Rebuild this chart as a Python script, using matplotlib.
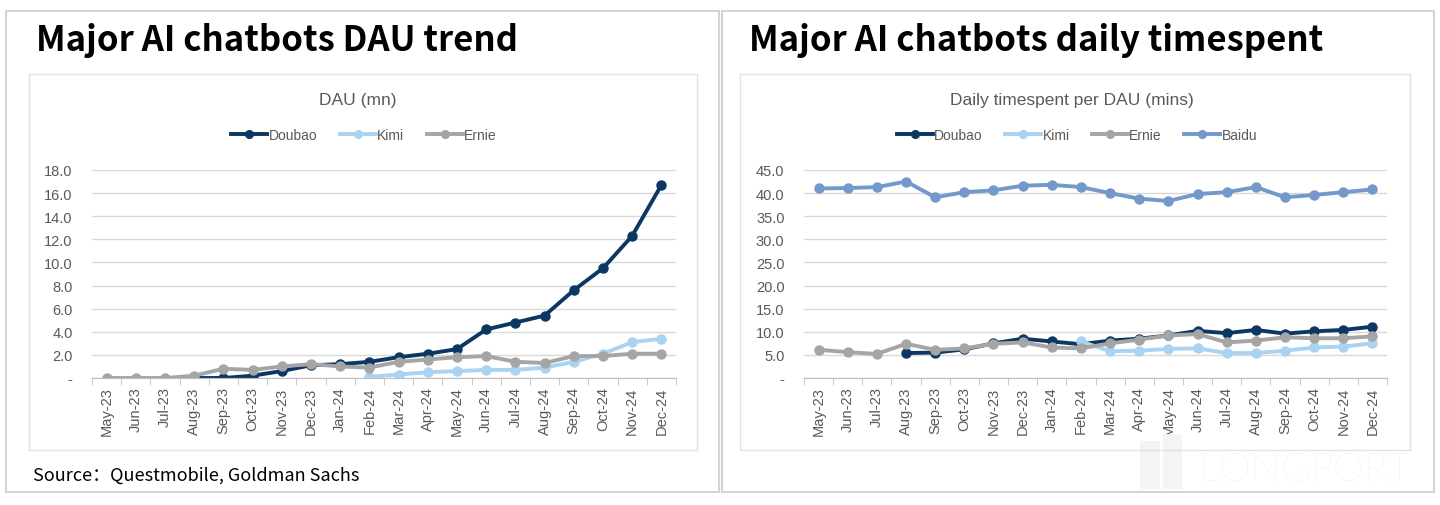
import numpy as np
import matplotlib.pyplot as plt
from matplotlib.patches import Rectangle

# ---------------- data ----------------
months = ['May-23', 'Jun-23', 'Jul-23', 'Aug-23', 'Sep-23', 'Oct-23', 'Nov-23',
          'Dec-23', 'Jan-24', 'Feb-24', 'Mar-24', 'Apr-24', 'May-24', 'Jun-24',
          'Jul-24', 'Aug-24', 'Sep-24', 'Oct-24', 'Nov-24', 'Dec-24']
nan = np.nan

dau_doubao = [nan, nan, nan, 0.0, 0.0, 0.2, 0.6, 1.1, 1.2, 1.4, 1.8, 2.1,
              2.5, 4.2, 4.8, 5.4, 7.6, 9.5, 12.3, 16.7]
dau_kimi = [nan, nan, nan, nan, nan, nan, nan, nan, nan, 0.1, 0.3, 0.5,
            0.6, 0.7, 0.7, 0.9, 1.4, 2.1, 3.1, 3.4]
dau_ernie = [0.0, 0.0, 0.0, 0.2, 0.8, 0.7, 1.0, 1.2, 1.0, 0.9, 1.4, 1.6,
             1.8, 1.9, 1.4, 1.3, 1.9, 1.9, 2.1, 2.1]

time_doubao = [nan, nan, nan, 5.4, 5.5, 6.2, 7.5, 8.5, 7.9, 7.3, 8.1, 8.5,
               9.2, 10.2, 9.7, 10.4, 9.6, 10.1, 10.4, 11.1]
time_kimi = [nan, nan, nan, nan, nan, nan, nan, nan, nan, 7.9, 5.8, 5.9,
             6.3, 6.4, 5.4, 5.4, 5.9, 6.6, 6.8, 7.5]
time_ernie = [6.1, 5.6, 5.2, 7.4, 6.1, 6.4, 7.4, 7.7, 6.6, 6.4, 7.5, 8.3,
              9.2, 9.5, 7.7, 8.1, 8.8, 8.6, 8.6, 9.0]
time_baidu = [41.0, 41.1, 41.3, 42.5, 39.1, 40.2, 40.6, 41.6, 41.8, 41.3, 40.0, 38.8,
              38.3, 39.8, 40.2, 41.3, 39.1, 39.6, 40.2, 40.8]

dau_ticks = [0, 2, 4, 6, 8, 10, 12, 14, 16, 18]
time_ticks = [0, 5, 10, 15, 20, 25, 30, 35, 40, 45]

colors = {'Doubao': '#0d3763', 'Kimi': '#a9d3f1', 'Ernie': '#a5a5a5', 'Baidu': '#7299c9'}

# ---------------- layout (pixels) ----------------
W, H = 1440, 506
fig = plt.figure(figsize=(W / 100, H / 100), dpi=100)
fig.patch.set_facecolor('white')


def px_box(x0, y0, x1, y1):
    # pixel box (top-left origin) -> figure fraction [l, b, w, h]
    return [x0 / W, 1 - y1 / H, (x1 - x0) / W, (y1 - y0) / H]


def add_rect(x0, y0, x1, y1, color, lw, fill=False):
    l, b, w, h = px_box(x0, y0, x1, y1)
    fig.add_artist(Rectangle((l, b), w, h, transform=fig.transFigure,
                             fill=fill, facecolor=color if fill else 'none',
                             edgecolor='none' if fill else color, linewidth=lw))


# watermark (behind everything)
add_rect(1140, 442, 1160, 490, '#f4f4f4', 0, fill=True)
add_rect(1163, 435, 1182, 490, '#f4f4f4', 0, fill=True)
fig.text(1305 / W, 1 - 470 / H, 'LONGPORT', fontsize=29, color='#eeeeee',
         family=['Lato', 'DejaVu Sans'], fontweight='light',
         va='center', ha='center', zorder=0)

# outer panels and inner chart frames
add_rect(6, 12, 719, 493, '#d4d4d4', 1.5)
add_rect(722, 12, 1434, 493, '#d4d4d4', 1.5)
add_rect(29, 75, 697, 451, '#e2e2e2', 1.0)
add_rect(740, 75, 1410, 451, '#e2e2e2', 1.0)

title_font = ['Noto Sans CJK SC', 'DejaVu Sans']
fig.text(36 / W, 1 - 40 / H, 'Major AI chatbots DAU trend', fontsize=25,
         fontweight='bold', family=title_font, va='center', ha='left')
fig.text(749 / W, 1 - 40 / H, 'Major AI chatbots daily timespent', fontsize=25,
         fontweight='bold', family=title_font, va='center', ha='left')
fig.text(33 / W, 1 - 476 / H, 'Source：Questmobile, Goldman Sachs', fontsize=13,
         family=title_font, va='center', ha='left')

text_gray = '#595959'
chart_font = ['Liberation Sans', 'DejaVu Sans']


def fmt_tick(v):
    return '-' if v == 0 else f'{v:.1f}'


def draw_chart(box, series, yticks, title, title_x, legend_x):
    ax = fig.add_axes(px_box(*box))
    x = np.arange(len(months))
    handles = []
    for name, vals in series:
        h, = ax.plot(x, vals, color=colors[name], lw=2.8, marker='o', ms=6.5,
                     label=name, solid_joinstyle='round')
        handles.append(h)
    ax.set_xlim(-0.5, len(months) - 0.5)
    ax.set_ylim(yticks[0], yticks[-1])
    ax.set_yticks(yticks)
    ax.set_yticklabels([fmt_tick(v) for v in yticks], fontsize=10.5,
                       color=text_gray, family=chart_font)
    ax.set_xticks(x)
    ax.set_xticklabels(months, rotation=90, fontsize=10.5, color=text_gray,
                       family=chart_font)
    ax.set_xticks(np.arange(-0.5, len(months), 1), minor=True)
    ax.tick_params(axis='x', which='major', length=0, pad=6)
    ax.tick_params(axis='x', which='minor', length=5, color='#bfbfbf')
    ax.tick_params(axis='y', length=0, pad=14)
    ax.grid(axis='y', color='#d9d9d9', lw=1.0)
    ax.set_axisbelow(True)
    for s in ['top', 'right', 'left']:
        ax.spines[s].set_visible(False)
    ax.spines['bottom'].set_color('#bfbfbf')
    fig.text(title_x / W, 1 - 100 / H, title, fontsize=12.5, color=text_gray,
             family=chart_font, ha='center', va='center')
    fig.legend(handles=handles, loc='center', ncol=len(handles),
               bbox_to_anchor=(legend_x / W, 1 - 136 / H), frameon=False,
               prop={'family': chart_font, 'size': 10}, labelcolor=text_gray,
               handlelength=2.6, handletextpad=0.1, columnspacing=1.6,
               markerscale=0.85)
    return ax


draw_chart((92, 171, 676, 379),
           [('Doubao', dau_doubao), ('Kimi', dau_kimi), ('Ernie', dau_ernie)],
           dau_ticks, 'DAU (mn)', 358, 364)
draw_chart((804, 171, 1387, 379),
           [('Doubao', time_doubao), ('Kimi', time_kimi), ('Ernie', time_ernie),
            ('Baidu', time_baidu)],
           time_ticks, 'Daily timespent per DAU (mins)', 1072, 1077)

fig.savefig('out.png', dpi=100)
